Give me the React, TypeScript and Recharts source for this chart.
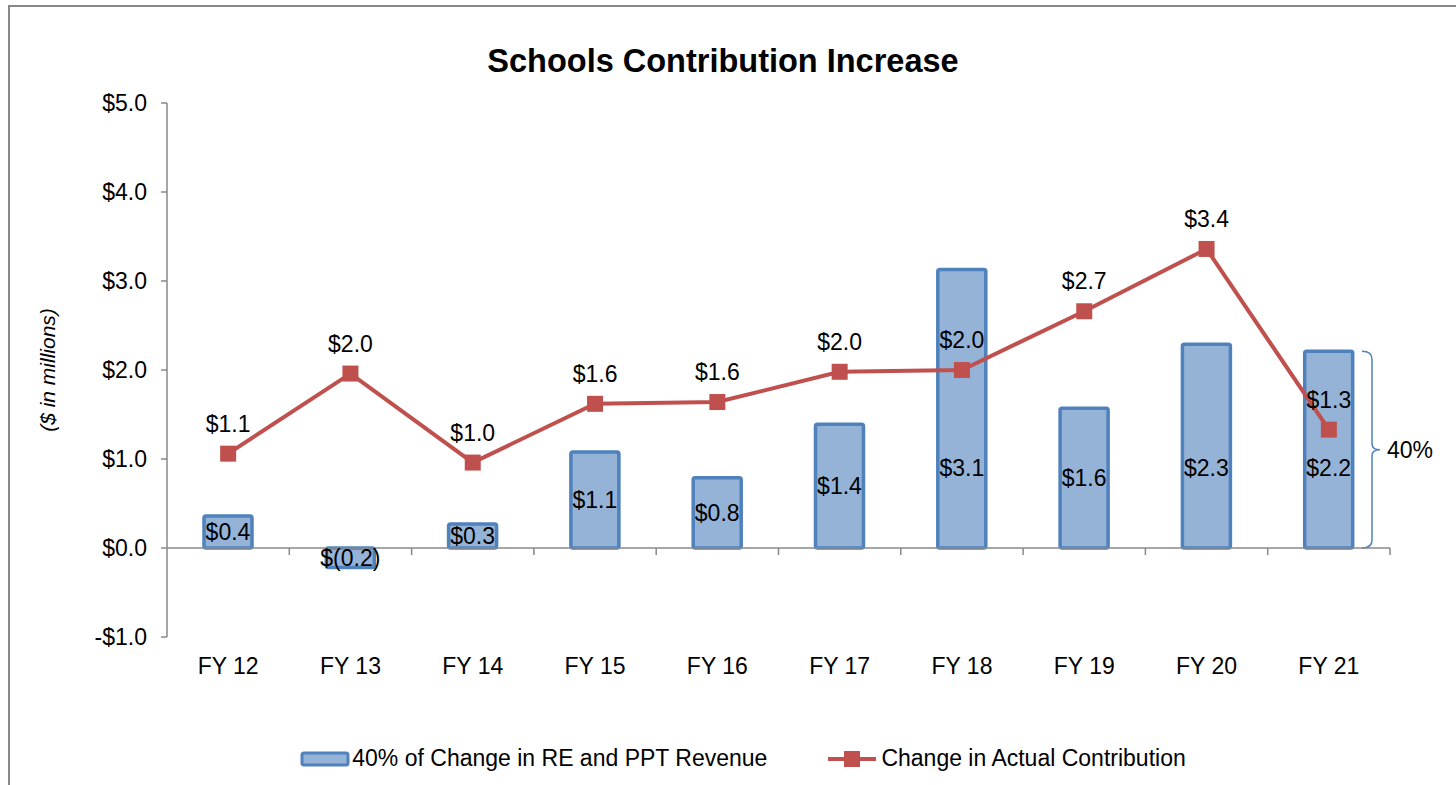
import * as React from "react";
import {Bar, ComposedChart, LabelList, Line, ReferenceArea, ReferenceLine, XAxis, YAxis} from "recharts";

const categories = ["FY 12", "FY 13", "FY 14", "FY 15", "FY 16", "FY 17", "FY 18", "FY 19", "FY 20", "FY 21"];
const revenueShare = [0.36, -0.22, 0.27, 1.08, 0.79, 1.39, 3.13, 1.57, 2.29, 2.21];
const actualContribution = [1.06, 1.96, 0.96, 1.62, 1.64, 1.98, 2.0, 2.66, 3.36, 1.33];
const yTicks = [-1, 0, 1, 2, 3, 4, 5];

const barName = "40% of Change in RE and PPT Revenue";
const lineName = "Change in Actual Contribution";

const FONT = "'Liberation Sans', Arial, sans-serif";
const FS = 23;
const BAR_FILL = "#95B3D7";
const BAR_STROKE = "#4F81BD";
const LINE_COLOR = "#C0504D";
const AXIS_COLOR = "#888888";

const data = categories.map((name, i) => ({
    name,
    share: revenueShare[i],
    actual: actualContribution[i],
}));

const money = (v: number) => (v < 0 ? `-$${Math.abs(v).toFixed(1)}` : `$${v.toFixed(1)}`);
const moneyParen = (v: number) => (v < 0 ? `$(${Math.abs(v).toFixed(1)})` : `$${v.toFixed(1)}`);

const BarValueLabel = (props: any) => {
    const vb = props.viewBox || {};
    const x = props.x ?? vb.x;
    const y = props.y ?? vb.y;
    const width = props.width ?? vb.width;
    const height = props.height ?? vb.height;
    const zero = y + height;
    const center = y + height / 2;
    const ly = props.value < 0 ? center : Math.max(center, zero - 80);
    return (
        <text x={x + width / 2} y={ly} dy="0.35em" textAnchor="middle" fontSize={FS} fontFamily={FONT} fill="#000">
            {moneyParen(props.value)}
        </text>
    );
};

const SquareDot = (props: any) => {
    const {cx, cy, index} = props;
    if (cx == null || cy == null) return null;
    return <rect key={`dot-${index}`} x={cx - 8} y={cy - 8} width={16} height={16} fill={LINE_COLOR}/>;
};

const ZeroAxis = (props: any) => {
    const {x1, y1, x2} = props;
    const step = (x2 - x1) / categories.length;
    return (
        <g>
            <line x1={x1} y1={y1} x2={x2} y2={y1} stroke={AXIS_COLOR} strokeWidth={1.5}/>
            {categories.map((c, i) => (
                <line key={c} x1={x1 + step * (i + 1)} y1={y1} x2={x1 + step * (i + 1)} y2={y1 + 7}
                      stroke={AXIS_COLOR} strokeWidth={1.5}/>
            ))}
        </g>
    );
};

const Brace = (props: any) => {
    const {x, y, width, height} = props;
    const bx = x + width - 28;
    const top = y;
    const bot = y + height;
    const mid = (top + bot) / 2;
    const d = `M${bx} ${top} Q${bx + 10} ${top} ${bx + 10} ${top + 8} L${bx + 10} ${mid - 6} Q${bx + 10} ${mid} ${bx + 18} ${mid} `
        + `Q${bx + 10} ${mid} ${bx + 10} ${mid + 6} L${bx + 10} ${bot - 8} Q${bx + 10} ${bot} ${bx} ${bot}`;
    return (
        <g>
            <path d={d} fill="none" stroke={BAR_STROKE} strokeWidth={1.5}/>
            <text x={bx + 25} y={mid} dy="0.35em" fontSize={FS} fontFamily={FONT} fill="#000">40%</text>
        </g>
    );
};

const YLabel = (props: any) => {
    const vb = props.viewBox || {};
    const cx = vb.x + 41;
    const cy = vb.y + vb.height / 2;
    return (
        <text x={cx} y={cy} textAnchor="middle" dy="0.35em" fontSize={21} fontStyle="italic" fontFamily={FONT}
              fill="#000" transform={`rotate(-90, ${cx}, ${cy})`}>
            ($ in millions)
        </text>
    );
};

const LegendRow = () => (
    <div style={{
        position: "absolute", top: 745, left: 0, width: 1456, display: "flex", justifyContent: "center",
        paddingLeft: 30, boxSizing: "border-box", fontFamily: FONT, fontSize: FS, color: "#000", alignItems: "center",
    }}>
        <svg width={50} height={16} style={{marginRight: 2}}>
            <rect x={2} y={2} width={46} height={12} rx={2} fill={BAR_FILL} stroke={BAR_STROKE} strokeWidth={3}/>
        </svg>
        <span style={{marginRight: 60}}>{barName}</span>
        <svg width={50} height={20} style={{marginRight: 4}}>
            <line x1={1} y1={10} x2={49} y2={10} stroke={LINE_COLOR} strokeWidth={4}/>
            <rect x={17} y={2} width={16} height={16} fill={LINE_COLOR}/>
        </svg>
        <span>{lineName}</span>
    </div>
);

export default function App() {
    return (
        <div style={{position: "absolute", left: 0, top: 0, width: 1456, height: 785, overflow: "hidden", background: "#fff"}}>
            <div style={{
                position: "absolute", left: 8, top: 5, width: 1448, height: 780,
                borderLeft: `2px solid ${AXIS_COLOR}`, borderTop: `2px solid ${AXIS_COLOR}`,
            }}/>
            <div style={{
                position: "absolute", top: 41, left: 0, width: 1446, textAlign: "center",
                fontFamily: FONT, fontWeight: "bold", fontSize: 32.5, color: "#000", lineHeight: "40px",
            }}>
                Schools Contribution Increase
            </div>
            <div style={{position: "absolute", left: 0, top: 0}}>
                <ComposedChart width={1456} height={785} data={data}
                               margin={{top: 103, right: 66, bottom: 108, left: 7}}>
                    <XAxis dataKey="name" axisLine={false} tickLine={false} tickSize={0} tickMargin={21} height={40}
                           interval={0} tick={{fontSize: FS, fill: "#000", fontFamily: FONT}}/>
                    <YAxis type="number" domain={[-1, 5]} ticks={yTicks} width={160} tickSize={6} tickMargin={14}
                           tickFormatter={money} interval={0}
                           axisLine={{stroke: AXIS_COLOR, strokeWidth: 1.5}}
                           tickLine={{stroke: AXIS_COLOR, strokeWidth: 1.5}}
                           tick={{fontSize: FS, fill: "#000", fontFamily: FONT}}
                           label={{content: YLabel}}/>
                    <ReferenceLine y={0} shape={ZeroAxis}/>
                    <ReferenceArea y1={0} y2={revenueShare[revenueShare.length - 1]} shape={Brace}/>
                    <Bar dataKey="share" name={barName} barSize={48} fill={BAR_FILL} stroke={BAR_STROKE}
                         strokeWidth={3.5} radius={2} isAnimationActive={false}>
                        <LabelList dataKey="share" content={BarValueLabel}/>
                    </Bar>
                    <Line dataKey="actual" name={lineName} type="linear" stroke={LINE_COLOR} strokeWidth={4}
                          dot={SquareDot} activeDot={false} isAnimationActive={false}>
                        <LabelList dataKey="actual" position="top" offset={22} formatter={(v: any) => moneyParen(v)}
                                   fontSize={FS} fill="#000" fontFamily={FONT}/>
                    </Line>
                </ComposedChart>
            </div>
            <LegendRow/>
        </div>
    );
}
